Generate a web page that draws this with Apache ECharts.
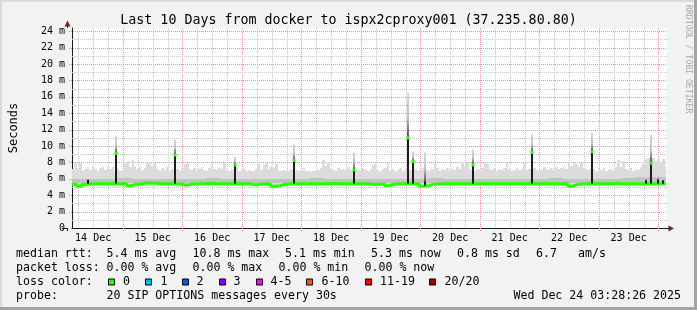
<!DOCTYPE html>
<html><head><meta charset="utf-8">
<script src="https://cdn.jsdelivr.net/npm/echarts@6/dist/echarts.min.js"></script>
<style>html,body{margin:0;padding:0;background:#f2f2f2}#c{width:697px;height:310px}</style>
</head><body><div id="c"></div>
<script>
// ---------------- data ----------------
const titleText = 'Last 10 Days from docker to ispx2cproxy001 (37.235.80.80)';
const startClock = [3, 28, 26];          // graph starts Dec 14 03:28:26
const spanHours = 240;
const dataEndHour = 239.4;
const dayLabels = ['14 Dec','15 Dec','16 Dec','17 Dec','18 Dec','19 Dec','20 Dec','21 Dec','22 Dec','23 Dec'];
const yTickValues = [0,2,4,6,8,10,12,14,16,18,20,22,24];

// upper edge of the smoke (ms), one value per hour
const smokeTop = [
 7.2,7.9,7.3,7.9,7.0,7.2,7.4,7.1,7.6,7.2,7.0,7.3,7.5,7.1,7.6,7.2,7.4,7.0,7.2,7.0,7.1,8.0,8.2,7.4,
 8.3,7.6,7.2,7.5,7.1,7.3,7.9,8.1,7.6,7.9,7.2,7.0,7.3,7.1,7.4,7.0,7.2,7.1,7.2,7.0,7.3,7.8,7.9,7.2,
 7.1,7.3,7.0,7.2,7.4,7.1,7.0,7.3,7.8,7.2,7.1,7.3,7.2,7.9,7.1,7.0,7.2,7.1,7.4,7.0,7.1,7.2,7.0,7.1,
 6.9,7.0,7.2,7.8,7.1,7.7,7.9,7.2,7.6,7.3,7.8,7.0,6.9,7.1,7.0,6.9,7.2,7.0,7.1,6.9,7.0,7.3,6.9,6.8,
 6.8,6.9,7.0,7.1,7.3,8.3,7.6,8.1,7.2,7.1,7.0,7.3,7.1,7.2,7.0,7.4,7.1,7.0,7.2,7.1,7.0,7.2,7.1,7.0,
 7.2,7.7,7.8,7.1,7.0,7.2,7.3,7.9,7.1,7.2,7.0,7.1,7.3,7.0,7.2,7.3,7.1,7.4,7.2,7.0,7.1,7.3,7.2,7.0,
 7.1,7.2,7.9,7.3,7.0,7.2,7.1,7.3,7.0,7.2,7.1,7.4,7.2,8.0,7.6,8.1,7.2,7.1,7.0,7.2,7.1,7.3,8.1,7.8,
 7.2,7.1,7.3,7.0,7.2,7.1,7.3,7.9,7.2,7.0,7.1,7.3,7.1,7.2,7.9,7.1,7.2,7.0,7.3,7.1,7.0,7.2,7.4,7.1,
 7.2,7.3,7.1,7.4,7.2,7.3,7.5,7.2,8.0,7.6,8.1,7.8,7.4,7.9,7.3,7.2,7.1,7.3,7.2,7.0,7.2,7.1,7.3,7.0,
 7.1,7.2,7.0,7.4,8.3,7.5,8.2,7.2,7.1,7.3,7.0,7.2,7.1,7.4,7.8,8.4,8.6,8.3,8.5,8.2,8.6,8.0,8.4,7.6
];
// lower edge of the smoke (ms), one value per 6 hours
const smokeLow = [
 5.15,5.15,5.15,5.15,5.15,5.15,5.15,5.15,5.15,5.15,5.15,5.15,5.15,5.15,5.15,5.15,5.15,5.15,5.15,5.15,
 5.15,5.15,5.15,5.15,5.15,5.15,5.15,5.15,5.15,5.15,5.15,5.15,5.15,5.15,5.15,5.15,5.15,5.15,5.15,5.15
];
// darker inner smoke band (ms), one value per 6 hours
const midLow = [
 5.55,5.55,5.55,5.55,5.55,5.55,5.55,5.55,5.55,5.55,5.55,5.55,5.55,5.55,5.55,5.55,5.55,5.55,5.55,5.55,
 5.55,5.55,5.55,5.55,5.55,5.55,5.55,5.55,5.55,5.55,5.55,5.55,5.55,5.55,5.55,5.55,5.55,5.55,5.55,5.55
];
const midTop = [
 6.0,5.95,6.0,6.05,5.95,6.0,6.0,5.95,6.0,6.05,6.0,5.95,6.0,6.0,5.95,6.0,6.05,6.0,5.95,6.0,
 6.0,5.95,6.0,6.0,6.05,6.0,5.95,6.0,6.0,6.0,5.95,6.0,6.05,6.0,6.0,5.95,6.0,6.1,6.2,6.2
];
// median rtt (ms), one value per 2 hours
const median = [
 5.35,5.1,5.35,5.4,5.4,5.4,5.4,5.4,5.4,5.4,
 5.4,5.15,5.35,5.4,5.5,5.5,5.45,5.4,5.4,5.4,
 5.4,5.4,5.2,5.35,5.4,5.4,5.4,5.45,5.4,5.4,
 5.4,5.4,5.4,5.4,5.4,5.4,5.25,5.35,5.4,5.4,
 5.1,5.15,5.35,5.4,5.4,5.4,5.4,5.4,5.4,5.4,
 5.4,5.4,5.45,5.4,5.4,5.4,5.4,5.4,5.4,5.4,
 5.3,5.35,5.4,5.15,5.35,5.4,5.4,5.4,5.4,5.4,
 5.1,5.15,5.35,5.4,5.4,5.4,5.4,5.4,5.4,5.4,
 5.4,5.4,5.4,5.4,5.4,5.4,5.4,5.4,5.4,5.4,
 5.4,5.4,5.4,5.4,5.4,5.4,5.4,5.4,5.4,5.4,
 5.1,5.3,5.4,5.4,5.4,5.4,5.4,5.4,5.4,5.45,
 5.4,5.4,5.4,5.4,5.4,5.4,5.4,5.4,5.4,5.4
];
// short latency bursts: hour, top of dense smoke, top of faint smoke (ms)
const eventHour = [6.3, 17.6, 41.6, 65.6, 89.6, 113.6, 135.6, 137.6, 142.3, 161.6, 185.6, 209.6, 231.5, 233.6, 236.5, 238.2];
const eventPeak = [5.9, 9.1, 8.9, 7.7, 8.25, 7.1, 11.0, 8.1, 5.6, 7.7, 9.2, 9.3, 5.8, 7.9, 5.9, 5.8];
const eventTip  = [5.9, 11.2, 10.8, 8.7, 10.2, 9.2, 16.5, 9.3, 9.2, 9.6, 11.4, 11.6, 6.2, 11.4, 6.4, 6.0];

const rttStats = ['5.4 ms avg','10.8 ms max','5.1 ms min','5.3 ms now','0.8 ms sd','6.7','am/s'];
const lossStats = ['0.00 % avg','0.00 % max','0.00 % min','0.00 % now'];
const lossLabels = ['0','1','2','3','4-5','6-10','11-19','20/20'];
const lossColors = ['#26ff00','#00b8ff','#0059ff','#7e00ff','#ff00ff','#ff5500','#ff0000','#a10000'];
const probeText = '20 SIP OPTIONS messages every 30s';
const dateText = 'Wed Dec 24 03:28:26 2025';

// ---------------- layout ----------------
const FONT = '"DejaVu Sans Mono"';
const G = {left:67, top:28, right:30, bottom:82};
const W = 697, H = 310;
const axisY = H - G.bottom, axisX = G.left, plotRight = W - G.right;
const rttX = [106.5, 192.5, 285, 371, 457, 536, 578];
const lossX = [106.5, 192.5, 278.5, 364.5];
const boxX = [108, 145, 182, 219, 256, 306, 365, 429];
const boxLabelX = [123, 160.5, 196.5, 233.5, 270.5, 321.5, 380, 444.5];
const rowY = [254, 268, 281.8, 296.3];

const startH = startClock[0] + startClock[1]/60 + startClock[2]/3600;
const firstMidnight = 24 - startH;
const firstNoon = 12 - startH;

// grid lines
const vLines = [];
for (let t = firstMidnight % 6; t < spanHours; t += 6) {
  const k = Math.round((t - firstMidnight) / 6);
  vLines.push([t, 0, ((k % 4) + 4) % 4 === 0 ? 1 : 0]);
}
const hLines = [];
for (let v = 1; v <= 24; v++) hLines.push([0, v, v % 2 === 0 ? 1 : 0]);

const MAJOR = '#e79393';
const MINOR = '#c6c6c6';

// build series data: [fromHour, toHour, low, high]
const lowAt = i => smokeLow[Math.floor(i / 6)];
const smokeCols = smokeTop.map((v, i) => [i, Math.min(i + 1, dataEndHour), lowAt(i), v]);
const midCols = midTop.map((v, i) => [i * 6, Math.min((i + 1) * 6, dataEndHour), midLow[i], v]);

const medianData = median.map((v, i) => [i * 2, v]);
medianData.push([dataEndHour, median[median.length - 1]]);

const eventData = eventHour.map((h, i) => [h, median[Math.min(median.length - 1, Math.floor(h / 2))], eventPeak[i], eventTip[i]]);

function bandRenderer(color) {
  return (params, api) => {
    const a = api.coord([api.value(0), api.value(3)]);
    const b = api.coord([api.value(1), api.value(2)]);
    const x = Math.round(a[0]), y = Math.round(a[1]);
    return {type: 'rect', shape: {x: x, y: y, width: Math.round(b[0]) - x, height: Math.round(b[1]) - y},
      style: {fill: color}};
  };
}

const chart = echarts.init(document.getElementById('c'), null, {renderer: 'canvas'});

const graphics = [];
// frame
graphics.push({type:'rect', z:100, shape:{x:0, y:0, width:W, height:2}, style:{fill:'#dadada'}});
graphics.push({type:'rect', z:100, shape:{x:0, y:0, width:2, height:H}, style:{fill:'#dadada'}});
graphics.push({type:'rect', z:100, shape:{x:W-3, y:0, width:3, height:H}, style:{fill:'#a3a3a3'}});
graphics.push({type:'rect', z:100, shape:{x:0, y:H-3, width:W, height:3}, style:{fill:'#a3a3a3'}});
// axis extensions and arrows
graphics.push({type:'line', z:100, shape:{x1:axisX+0.5, y1:G.top, x2:axisX+0.5, y2:25}, style:{stroke:'#1a1a1a', lineWidth:1}});
graphics.push({type:'line', z:100, shape:{x1:axisX+0.5, y1:axisY, x2:axisX+0.5, y2:axisY+3}, style:{stroke:'#1a1a1a', lineWidth:1}});
graphics.push({type:'line', z:100, shape:{x1:axisX-5, y1:axisY+0.5, x2:axisX, y2:axisY+0.5}, style:{stroke:'#1a1a1a', lineWidth:1}});
graphics.push({type:'polygon', z:100, shape:{points:[[axisX-2.5, 26.5],[axisX+3.5, 26.5],[axisX+0.5, 20.5]]}, style:{fill:'#7f1f1f'}});
graphics.push({type:'line', z:100, shape:{x1:plotRight, y1:axisY+0.5, x2:plotRight+2, y2:axisY+0.5}, style:{stroke:'#1a1a1a', lineWidth:1}});
graphics.push({type:'polygon', z:100, shape:{points:[[plotRight+1.5, axisY-2.5],[plotRight+1.5, axisY+3.5],[plotRight+7, axisY+0.5]]}, style:{fill:'#7f1f1f'}});
// watermark
graphics.push({type:'text', z:100, x:688, y:5, rotation:-Math.PI/2,
  style:{text:'RRDTOOL / TOBI OETIKER', font:'8.2px ' + FONT, fill:'#a8a8a8', align:'left', verticalAlign:'middle', textAlign:'left', textVerticalAlign:'middle'}});

function txt(x, y, s, align) {
  return {type:'text', z:100, x:x, y:y, style:{text:s, font:'11.6px ' + FONT, fill:'#000',
    align:align || 'left', verticalAlign:'middle', textAlign:align || 'left', textVerticalAlign:'middle'}};
}
graphics.push(txt(16, rowY[0], 'median rtt:'));
rttStats.forEach((s, i) => graphics.push(txt(rttX[i], rowY[0], s)));
graphics.push(txt(16, rowY[1], 'packet loss:'));
lossStats.forEach((s, i) => graphics.push(txt(lossX[i], rowY[1], s)));
graphics.push(txt(16, rowY[2], 'loss color:'));
lossLabels.forEach((s, i) => {
  graphics.push({type:'rect', z:100, shape:{x:boxX[i] + 0.5, y:rowY[2] - 2.8, width:6, height:6}, style:{fill:lossColors[i], stroke:'#000', lineWidth:1}});
  graphics.push(txt(boxLabelX[i], rowY[2], s));
});
graphics.push(txt(16, rowY[3], 'probe:'));
graphics.push(txt(106.5, rowY[3], probeText));
graphics.push(txt(681, rowY[3], dateText, 'right'));

const option = {
  animation: false,
  backgroundColor: '#f2f2f2',
  title: {text: titleText, left: 'center', top: 9,
    textStyle: {fontFamily: FONT, fontSize: 13.3, fontWeight: 'normal', color: '#000'}},
  grid: {left: G.left, top: G.top, right: G.right, bottom: G.bottom, show: true,
    backgroundColor: '#ffffff', borderWidth: 0},
  xAxis: {type: 'value', min: 0, max: spanHours,
    axisLine: {show: true, onZero: false, lineStyle: {color: '#1a1a1a', width: 1}},
    axisTick: {show: false}, splitLine: {show: false},
    axisLabel: {customValues: dayLabels.map((_, i) => firstNoon + 24 * i),
      formatter: v => dayLabels[Math.round((v - firstNoon) / 24)] || '',
      fontFamily: FONT, fontSize: 10, color: '#000', margin: 5}},
  yAxis: {type: 'value', min: 0, max: 24.4,
    name: 'Seconds', nameLocation: 'middle', nameGap: 52, nameRotate: 90,
    nameTextStyle: {fontFamily: FONT, fontSize: 12, color: '#000'},
    axisLine: {show: true, lineStyle: {color: '#1a1a1a', width: 1}},
    axisTick: {show: false}, splitLine: {show: false},
    axisLabel: {customValues: yTickValues, formatter: v => v === 0 ? '0' : v + ' m',
      fontFamily: FONT, fontSize: 10, color: '#000', margin: 7}},
  graphic: graphics,
  series: [
    {type: 'custom', name: 'vgrid', z: 1, silent: true, clip: false, data: vLines,
      renderItem: (params, api) => {
        const cs = params.coordSys;
        const major = api.value(2);
        const x = Math.round(api.coord([api.value(0), 0])[0]) + 0.5;
        return {type: 'line', shape: {x1: x, y1: cs.y, x2: x, y2: cs.y + cs.height + (major ? 3 : 0)},
          style: {stroke: major ? MAJOR : MINOR, lineWidth: 1, lineDash: [1, 1]}};
      }},
    {type: 'custom', name: 'hgrid', z: 1, silent: true, clip: false, data: hLines,
      renderItem: (params, api) => {
        const cs = params.coordSys;
        const major = api.value(2);
        const y = Math.round(api.coord([0, api.value(1)])[1]) + 0.5;
        return {type: 'line', shape: {x1: cs.x - (major ? 3 : 0), y1: y, x2: cs.x + cs.width, y2: y},
          style: {stroke: major ? MAJOR : MINOR, lineWidth: 1, lineDash: [1, 1]}};
      }},
    {type: 'custom', name: 'smoke', z: 2, silent: true, data: smokeCols,
      encode: {x: [0, 1], y: [2, 3]}, renderItem: bandRenderer('#dcdcdc')},
    {type: 'custom', name: 'smokeInner', z: 3, silent: true, data: midCols,
      encode: {x: [0, 1], y: [2, 3]}, renderItem: bandRenderer('#c2c2c2')},
    {type: 'line', name: 'median', z: 4, silent: true, step: 'end', symbol: 'none',
      data: medianData, lineStyle: {color: '#26ff00', width: 3}},
    {type: 'custom', name: 'bursts', z: 5, silent: true, data: eventData,
      renderItem: (params, api) => {
        const h = api.value(0), b = api.value(1), p = api.value(2), t = api.value(3);
        const pb = api.coord([h, b]), pp = api.coord([h, p]), pt = api.coord([h, t]);
        const x = Math.round(pb[0]) - 1;
        const children = [];
        if (pt[1] < pp[1] - 0.5) {
          children.push({type: 'rect', shape: {x: x, y: pt[1], width: 2, height: pp[1] - pt[1]},
            style: {fill: new echarts.graphic.LinearGradient(0, 0, 0, 1, [
              {offset: 0, color: '#d6d6d6'}, {offset: 0.55, color: '#c2c2c2'}, {offset: 1, color: '#505050'}])}});
        }
        children.push({type: 'rect', shape: {x: x, y: pp[1], width: 2, height: pb[1] - pp[1]},
          style: {fill: '#1c1c1c'}});
        if (p - b > 1) {
          children.push({type: 'rect', shape: {x: x - 0.5, y: pp[1] - 1.5, width: 3, height: 3},
            style: {fill: '#26ff00'}});
        }
        return {type: 'group', children: children};
      }}
  ]
};
chart.setOption(option);
</script>
</body></html>
